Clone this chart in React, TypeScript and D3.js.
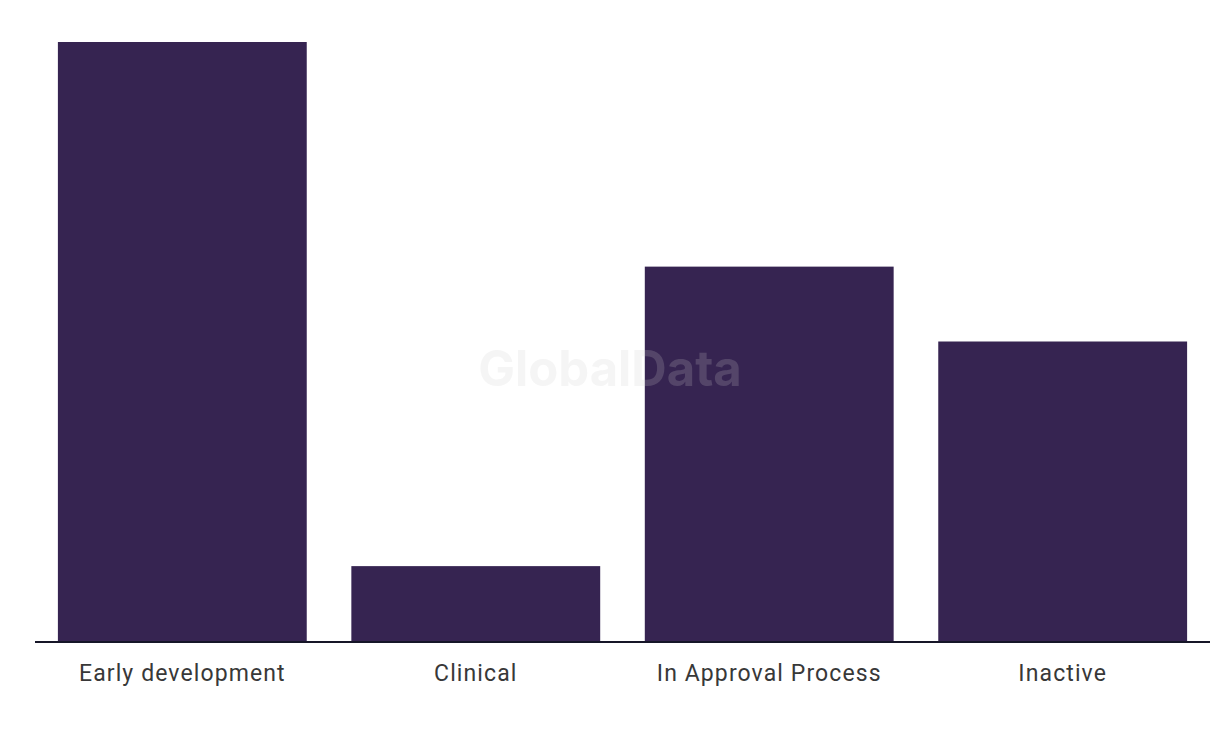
import React from "react";
import * as d3 from "d3";

const categories = ["Early development", "Clinical", "In Approval Process", "Inactive"];
const values = [8, 1, 5, 4];

export default function App() {
  const W = 1220, H = 736;
  const left = 35, right = 1210, baseline = 641, top = 42;
  const x = d3.scaleBand<string>().domain(categories).range([left, right]).paddingInner(0.152).paddingOuter(0.078);
  const y = d3.scaleLinear().domain([0, 8]).range([baseline, top]);
  return (
    <svg width={W} height={H} style={{ position: "absolute", left: 0, top: 0, background: "#fff" }}>
      {categories.map((c, i) => (
        <rect key={c} x={x(c)} y={y(values[i])} width={x.bandwidth()} height={baseline - y(values[i])} fill="#362451" />
      ))}
      <line x1={left} x2={right} y1={baseline + 1} y2={baseline + 1} stroke="#161628" strokeWidth={2} />
      {categories.map((c) => (
        <text key={c} x={(x(c) as number) + x.bandwidth() / 2} y={681} textAnchor="middle" fontFamily="Roboto, 'Noto Sans', sans-serif" fontSize={23} letterSpacing={1.1} fill="#383838" >{c}</text>
      ))}
      <text x={610} y={386} textAnchor="middle" fontFamily="Inter, 'Liberation Sans', sans-serif" fontWeight={700} fontSize={49} fill="#cccccc" fillOpacity={0.2}>GlobalData</text>
    </svg>
  );
}
